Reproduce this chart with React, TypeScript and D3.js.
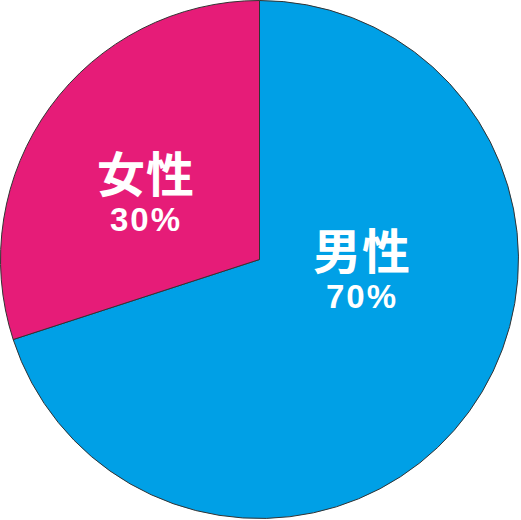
import React from "react";
import * as d3 from "d3";

const categories = ["男性", "女性"];
const values = [70, 30];
const colors = ["#00A0E6", "#E61C78"];
const labelPos: [number, number][] = [
  [362, 273],
  [146, 196],
];

export default function App() {
  const W = 521, H = 520;
  const cx = 259.5, cy = 259.5, r = 259;
  const pie = d3.pie<number>().sort(null).value((d) => d)(values);
  const arc = d3.arc<d3.PieArcDatum<number>>().innerRadius(0).outerRadius(r);
  return (
    <svg width={W} height={H} style={{ position: "absolute", left: 0, top: 0 }}>
      <g transform={`translate(${cx},${cy})`}>
        {pie.map((p, i) => (
          <path key={i} d={arc(p) || ""} fill={colors[i]} stroke="#333" strokeWidth={1} />
        ))}
      </g>
      {categories.map((c, i) => (
        <g key={c} transform={`translate(${labelPos[i][0]},${labelPos[i][1]})`} fill="#fff" textAnchor="middle" fontWeight="bold">
          <text y={-25} dominantBaseline="central" fontFamily="'Noto Sans CJK JP', sans-serif" fontSize={48} letterSpacing={1}>{c}</text>
          <text y={23} dominantBaseline="central" fontFamily="'Liberation Sans', Arial, sans-serif" fontSize={33} letterSpacing={2}>{values[i]}%</text>
        </g>
      ))}
    </svg>
  );
}
